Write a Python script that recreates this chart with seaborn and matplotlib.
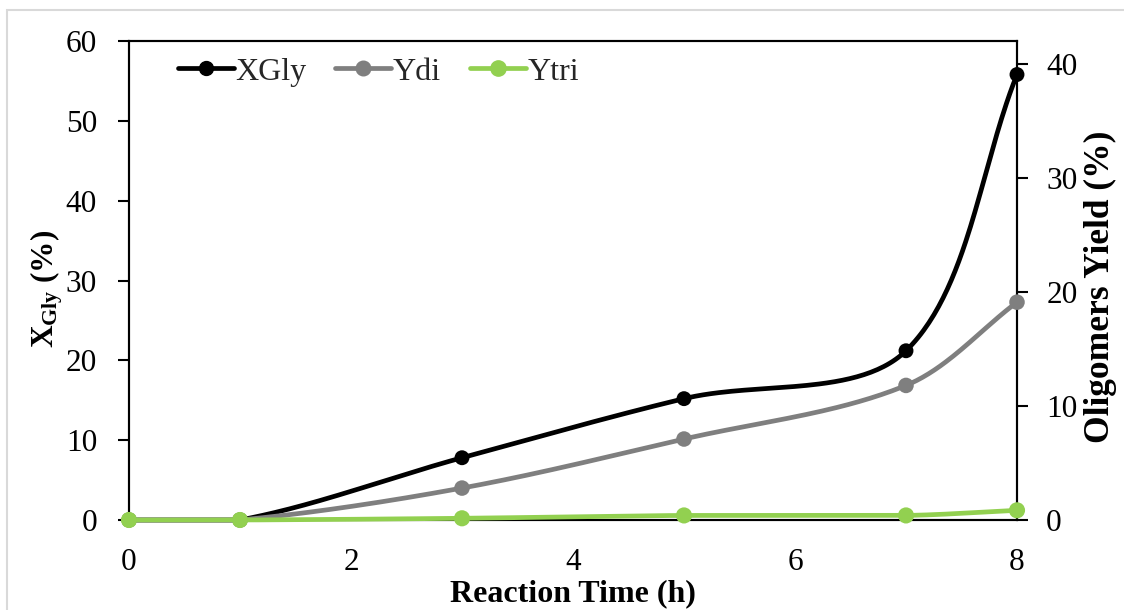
import numpy as np
import matplotlib
matplotlib.use("Agg")
import matplotlib.pyplot as plt
from matplotlib.lines import Line2D
from matplotlib.patches import Rectangle
import seaborn as sns

# Reaction data
time_h = [0, 1, 3, 5, 7, 8]
x_gly = [0.0, 0.0, 7.8, 15.2, 21.2, 55.8]      # glycerol conversion (%), left axis
y_di = [0.0, 0.0, 2.8, 7.1, 11.8, 19.1]         # diglycerol yield (%), right axis
y_tri = [0.0, 0.0, 0.15, 0.4, 0.4, 0.85]        # triglycerol yield (%), right axis

series_names = ["XGly", "Ydi", "Ytri"]
x_ticks = [0, 2, 4, 6, 8]
left_ticks = [0, 10, 20, 30, 40, 50, 60]
right_ticks = [0, 10, 20, 30, 40]

sns.set_theme(style="white")
plt.rcParams["font.family"] = ["Liberation Serif", "DejaVu Serif"]
plt.rcParams["mathtext.fontset"] = "custom"
plt.rcParams["mathtext.rm"] = "Liberation Serif"
plt.rcParams["mathtext.bf"] = "Liberation Serif:bold"
plt.rcParams["mathtext.it"] = "Liberation Serif:italic"

W, H = 1124, 610
fig = plt.figure(figsize=(W / 100, H / 100), dpi=100)
fig.patch.set_facecolor("white")

# light chart-area frame
fig.patches.append(Rectangle((7 / W, -0.05), 1.2, 1 - 10 / H + 0.05,
                             transform=fig.transFigure, fill=False,
                             edgecolor="#D9D9D9", linewidth=1.5))

ax = fig.add_axes([129 / W, 1 - 520 / H, (1017 - 129) / W, (520 - 41) / H])
ax2 = ax.twinx()

ax.set_xlim(0, 8)
ax.set_ylim(0, 60)
ax2.set_ylim(0, 42)

BLACK = "#000000"
GRAY = "#7F7F7F"
GREEN = "#92D050"
LW = 3.4
FS = 22.5


def smooth_curve(axis, xs, ys, n=60):
    """Bezier smoothing (Excel style) computed in display space."""
    pts = axis.transData.transform(np.column_stack([xs, ys]).astype(float))
    out = []
    m = len(pts)
    for i in range(m - 1):
        p0 = pts[i - 1] if i > 0 else pts[i]
        p1 = pts[i]
        p2 = pts[i + 1]
        p3 = pts[i + 2] if i + 2 < m else pts[i + 1]
        d01 = np.linalg.norm(p1 - p0)
        d12 = np.linalg.norm(p2 - p1)
        d23 = np.linalg.norm(p3 - p2)
        f1 = d12 / (d01 + d12) if (d01 + d12) > 0 else 0
        f2 = d12 / (d12 + d23) if (d12 + d23) > 0 else 0
        c1 = p1 + (p2 - p0) * f1 / 3
        c2 = p2 - (p3 - p1) * f2 / 3
        # keep flat runs flat (no dip below a level segment)
        if abs(p2[1] - p1[1]) < 1e-9:
            c1[1] = p1[1]
            c2[1] = p2[1]
        t = np.linspace(0, 1, n)[:, None]
        seg = ((1 - t) ** 3) * p1 + 3 * ((1 - t) ** 2) * t * c1 \
            + 3 * (1 - t) * t ** 2 * c2 + t ** 3 * p2
        out.append(seg if i == 0 else seg[1:])
    out = np.vstack(out)
    data = axis.transData.inverted().transform(out)
    return data[:, 0], data[:, 1]


def draw_series(axis, ys, color, ms):
    sx, sy = smooth_curve(axis, time_h, ys)
    sns.lineplot(x=sx, y=sy, ax=axis, sort=False, estimator=None,
                 color=color, linewidth=LW, zorder=3, clip_on=False)
    sns.scatterplot(x=time_h, y=ys, ax=axis, color=color, s=ms,
                    edgecolor="none", linewidth=0, zorder=4, clip_on=False)


draw_series(ax, x_gly, BLACK, 115)
draw_series(ax2, y_di, GRAY, 125)
draw_series(ax2, y_tri, GREEN, 135)

ax.set_xlim(0, 8)
ax.set_ylim(0, 60)
ax2.set_ylim(0, 42)

ax.set_xticks(x_ticks)
ax.set_yticks(left_ticks)
ax2.set_yticks(right_ticks)

for a in (ax, ax2):
    for s in a.spines.values():
        s.set_color("black")
        s.set_linewidth(1.5)
    a.grid(False)

ax.tick_params(axis="x", length=0, pad=20, labelsize=FS, colors="black")
ax.tick_params(axis="y", left=True, length=8, width=1.5, direction="out",
               pad=15, labelsize=FS, colors="black")
ax2.tick_params(axis="y", right=True, length=8, width=1.5, direction="out",
                pad=13, labelsize=FS, colors="black")

ax.set_xlabel("Reaction Time (h)", fontsize=23, fontweight="bold",
              labelpad=2, color="black")
ax.set_ylabel(r"$\mathbf{X_{Gly}}$ (%)", fontsize=22.5, fontweight="bold",
              color="black")
ax.yaxis.set_label_coords((65 - 129) / 888, (520 - 289) / 479)
ax2.set_ylabel("Oligomers Yield (%)", fontsize=25.5, fontweight="bold",
               color="black", rotation=90)
ax2.yaxis.set_label_coords((1084 - 129) / 888, (520 - 287) / 479)

handles = [
    Line2D([], [], color=BLACK, lw=LW, marker="o", markersize=10),
    Line2D([], [], color=GRAY, lw=LW, marker="o", markersize=10.5),
    Line2D([], [], color=GREEN, lw=LW, marker="o", markersize=11),
]
fig.legend(handles, series_names, loc="center left",
           bbox_to_anchor=(178 / W, 1 - 72 / H), ncol=3, frameon=False,
           fontsize=23, handlelength=1.75, handletextpad=0.05,
           columnspacing=0.9, borderpad=0, borderaxespad=0, numpoints=1)

fig.savefig("out.png", dpi=100, facecolor="white")
